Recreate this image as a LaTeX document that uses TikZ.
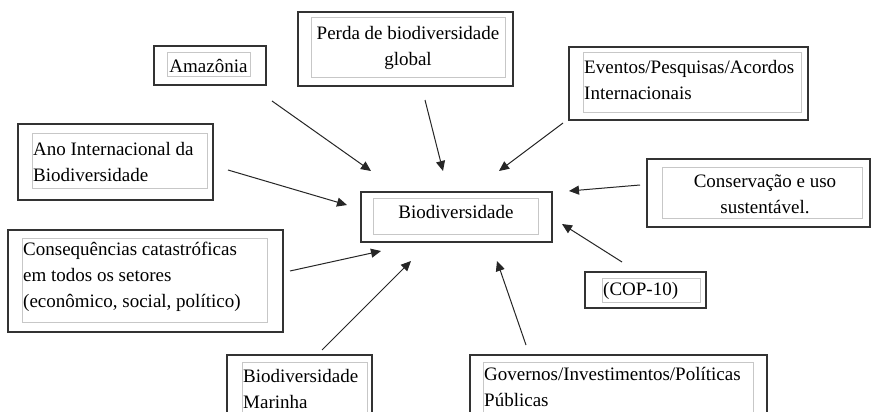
\documentclass[tikz,border=0pt]{standalone}
\usepackage{fontspec}
\setmainfont{Liberation Serif}
\usetikzlibrary{arrows.meta}
\tikzset{
  outerbox/.style={draw=black!80, line width=1.3pt},
  innerbox/.style={draw=black!22, line width=1pt},
  lbl/.style={inner sep=0pt, font=\fontsize{19}{26}\selectfont, text=black},
  arr/.style={draw=black!85, line width=1pt, -{Triangle[length=10pt,width=9pt]}}
}
\begin{document}
\begin{tikzpicture}[x=1pt,y=-1pt]
\clip (0,0) rectangle (873,412);
\fill[white] (0,0) rectangle (873,412);

% Amazonia
\draw[outerbox] (154,46) rectangle (266,85);
\draw[innerbox] (167,53) rectangle (250,77);
\node[lbl] (amz) at (208.5,66) {Amazônia};

% Perda
\draw[outerbox] (298,12) rectangle (513,86);
\draw[innerbox] (311,18) rectangle (505,78);
\node[lbl, align=center] (perda) at (408,48) {Perda de biodiversidade\\global};

% Eventos
\draw[outerbox] (569,47) rectangle (808,120);
\draw[innerbox] (583,53) rectangle (801,112);
\node[lbl, align=left, anchor=west] (evt) at (584,80) {Eventos/Pesquisas/Acordos\\Internacionais};

% Ano
\draw[outerbox] (18,124) rectangle (213,200);
\draw[innerbox] (32,133) rectangle (207,188);
\node[lbl, align=left, anchor=west] (ano) at (33,162) {Ano Internacional da\\Biodiversidade};

% Biodiversidade (centre)
\draw[outerbox] (361,192) rectangle (552,242);
\draw[innerbox] (373,198) rectangle (538,234);
\node[lbl] (bio) at (456,212) {Biodiversidade};

% Conservacao
\draw[outerbox] (647,159) rectangle (870,227);
\draw[innerbox] (662,167) rectangle (862,218);
\node[lbl, align=center] (cons) at (765,194) {Conservação e uso\\sustentável.};

% Consequencias
\draw[outerbox] (8,230) rectangle (283,332);
\draw[innerbox] (22,238) rectangle (267,322);
\node[lbl, align=left, anchor=west] (csq) at (23,277) {Consequências catastróficas\\em todos os setores\\(econômico, social, político)};

% COP-10
\draw[outerbox] (585,272) rectangle (706,308);
\draw[innerbox] (602,278) rectangle (700,302);
\node[lbl, anchor=west] (cop) at (603,291) {(COP-10)};

% Biodiversidade Marinha
\draw[outerbox] (227,355) rectangle (372,440);
\draw[innerbox] (242,362) rectangle (367,430);
\node[lbl, align=left, anchor=west] (mar) at (243,389) {Biodiversidade\\Marinha};

% Governos
\draw[outerbox] (470,355) rectangle (767,440);
\draw[innerbox] (483,362) rectangle (753,430);
\node[lbl, align=left, anchor=west] (gov) at (484,387) {Governos/Investimentos/Políticas\\Públicas};

% arrow end points
\coordinate (a1s) at (272,101); \coordinate (a1e) at (371,171);
\coordinate (a2s) at (425,100); \coordinate (a2e) at (443,171);
\coordinate (a3s) at (563,123); \coordinate (a3e) at (499,171);
\coordinate (a4s) at (228,170); \coordinate (a4e) at (347,205);
\coordinate (a5s) at (640,185); \coordinate (a5e) at (569,191);
\coordinate (a6s) at (290,271); \coordinate (a6e) at (381,251);
\coordinate (a7s) at (622,262); \coordinate (a7e) at (562,224);
\coordinate (a8s) at (322,350); \coordinate (a8e) at (411,261);
\coordinate (a9s) at (526,345); \coordinate (a9e) at (497,261);

\foreach \i in {1,...,9} {\draw[arr] (a\i s) -- (a\i e);}
\end{tikzpicture}
\end{document}
